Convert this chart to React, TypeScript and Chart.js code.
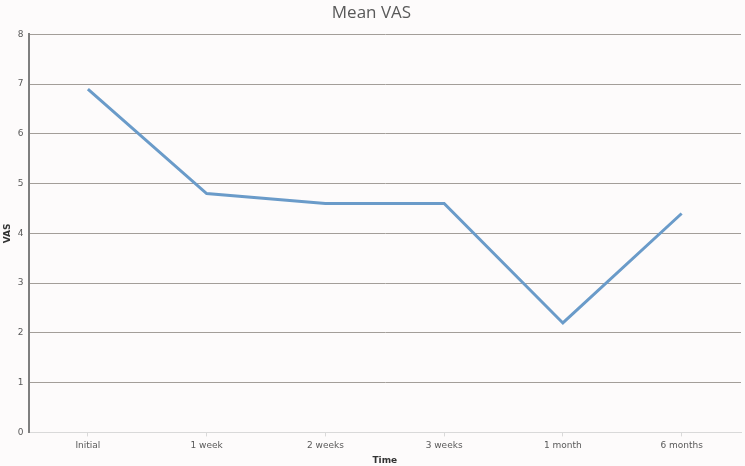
import React, { useEffect, useRef } from "react";
import { Chart, registerables } from "chart.js";

Chart.register(...registerables);

const categories = ["Initial", "1 week", "2 weeks", "3 weeks", "1 month", "6 months"];
const meanVas = [6.9, 4.8, 4.6, 4.6, 2.2, 4.4];
const yTicks = [0, 1, 2, 3, 4, 5, 6, 7, 8];

export default function App() {
  const ref = useRef<HTMLCanvasElement>(null);
  useEffect(() => {
    document.body.style.margin = "0";
    const ctx = ref.current!;
    const chart = new Chart(ctx, {
      type: "line",
      data: {
        labels: categories,
        datasets: [
          {
            label: "Mean VAS",
            data: meanVas,
            borderColor: "#6a9bc9",
            borderWidth: 3,
            pointRadius: 0,
            tension: 0,
            fill: false,
          },
        ],
      },
      options: {
        animation: false,
        responsive: false,
        maintainAspectRatio: false,
        layout: { padding: { left: 2, right: 4, top: 0, bottom: 0 } },
        plugins: {
          legend: { display: false },
          tooltip: { enabled: false },
          title: {
            display: true,
            text: "Mean VAS",
            color: "#595959",
            font: { family: "Open Sans", size: 17, weight: "normal" },
            padding: { top: 3, bottom: 11 },
          },
        },
        scales: {
          x: {
            offset: true,
            grid: {
              display: true,
              drawOnChartArea: false,
              drawTicks: true,
              offset: false,
              tickLength: 4,
              color: "#d9d9d9",
            },
            border: { color: "#d9d9d9", width: 1 },
            ticks: {
              color: "#595959",
              font: { family: "DejaVu Sans", size: 9 },
              padding: 4,
              maxRotation: 0,
            },
            title: {
              display: true,
              text: "Time",
              color: "#333333",
              font: { family: "DejaVu Sans", size: 9, weight: "bold" },
              padding: { top: 0, bottom: 0 },
            },
          },
          y: {
            min: 0,
            max: 8,
            afterBuildTicks: (axis: any) => {
              axis.ticks = yTicks.map((v) => ({ value: v }));
            },
            grid: {
              color: (c: any) => (c.tick && c.tick.value === 0 ? "#d9d9d9" : "#a39e99"),
              lineWidth: 1,
              drawTicks: false,
            },
            border: { color: "#7f7f7f", width: 2 },
            ticks: {
              color: "#595959",
              font: { family: "DejaVu Sans", size: 9 },
              padding: 5,
            },
            title: {
              display: true,
              text: "VAS",
              color: "#333333",
              font: { family: "DejaVu Sans", size: 9, weight: "bold" },
              padding: { top: 0, bottom: 0 },
            },
          },
        },
      },
    });
    return () => chart.destroy();
  }, []);
  return (
    <div style={{ position: "absolute", left: 0, top: 0, width: 745, height: 466, background: "#fdfbfb" }}>
      <canvas ref={ref} width={745} height={466} />
    </div>
  );
}
